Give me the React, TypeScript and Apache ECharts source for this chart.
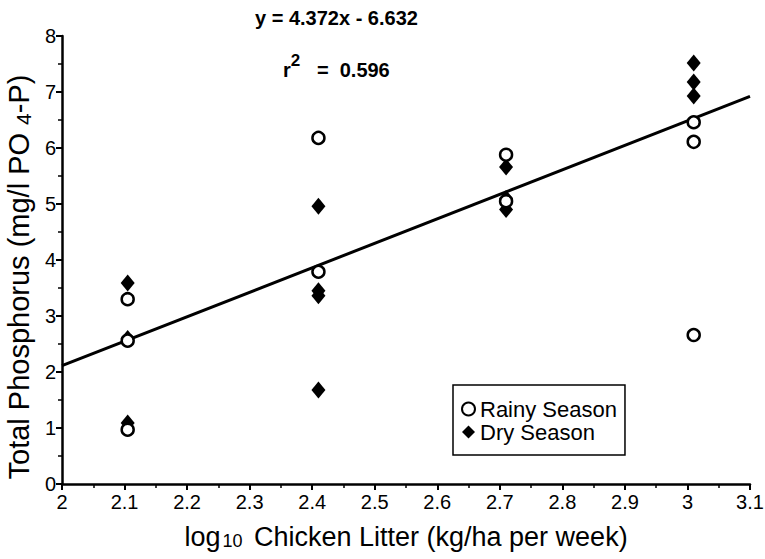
import React, { useEffect, useRef } from "react";
import * as echarts from "echarts";

const rainyX = [2.105, 2.105, 2.105, 2.41, 2.41, 2.71, 2.71, 3.01, 3.01, 3.01];
const rainyY = [3.3, 2.56, 0.97, 6.18, 3.79, 5.88, 5.05, 6.46, 6.11, 2.66];
const dryX = [2.105, 2.105, 2.105, 2.41, 2.41, 2.41, 2.41, 2.71, 2.71, 2.71, 3.01, 3.01, 3.01];
const dryY = [3.59, 2.6, 1.09, 4.96, 3.45, 3.36, 1.68, 5.66, 5.1, 4.9, 7.52, 7.18, 6.93];
const slope = 4.372;
const intercept = -6.632;
const lineX = [2, 3.1];
const equationText = "y = 4.372x - 6.632";
const r2Value = "0.596";

export default function App() {
  const ref = useRef<HTMLDivElement>(null);
  useEffect(() => {
    if (!ref.current) return;
    const chart = echarts.init(ref.current, null, { renderer: "svg" });
    const font = "Liberation Sans, Arial, Helvetica, sans-serif";
    chart.setOption({
      animation: false,
      grid: { left: 62, right: 15, top: 36, bottom: 75, containLabel: false, outerBoundsMode: "none" },
      textStyle: { fontFamily: font, color: "#000" },
      legend: {
        left: 453,
        top: 385,
        orient: "vertical",
        borderColor: "#000",
        borderWidth: 1.5,
        padding: [13, 8, 12, 8],
        itemGap: 1,
        itemWidth: 13,
        itemHeight: 13,
        textStyle: { fontSize: 22, color: "#000", fontFamily: font },
        data: ["Rainy Season", "Dry Season"],
      },
      xAxis: {
        type: "value",
        min: 2,
        max: 3.1,
        interval: 0.1,
        axisLine: { lineStyle: { color: "#000", width: 2.5 } },
        axisTick: { length: 6, lineStyle: { color: "#000", width: 2 } },
        minorTick: { show: true, splitNumber: 2, length: 4, lineStyle: { color: "#000", width: 1.5 } },
        splitLine: { show: false },
        axisLabel: { fontSize: 20, color: "#000", fontFamily: font, margin: 8 },
        name: "{a|log}{s|10}{a| Chicken Litter (kg/ha per week)}",
        nameLocation: "middle",
        nameGap: 36,
        nameTextStyle: {
          rich: {
            a: { fontSize: 27, fontFamily: font, color: "#000", lineHeight: 30, verticalAlign: "bottom" },
            s: { fontSize: 18, fontFamily: font, color: "#000", lineHeight: 14, verticalAlign: "bottom", padding: [0, 4, 0, 2] },
          },
        },
      },
      yAxis: {
        type: "value",
        min: 0,
        max: 8,
        interval: 1,
        axisLine: { lineStyle: { color: "#000", width: 2.5 } },
        axisTick: { length: 6, lineStyle: { color: "#000", width: 2 } },
        minorTick: { show: true, splitNumber: 2, length: 4, lineStyle: { color: "#000", width: 1.5 } },
        splitLine: { show: false },
        axisLabel: { fontSize: 20, color: "#000", fontFamily: font, margin: 6 },
        name: "{a|Total Phosphorus (mg/l PO }{s|4}{a|-P)}",
        nameLocation: "middle",
        nameGap: 26,
        nameTextStyle: {
          padding: [0, 34, 0, 0],
          rich: {
            a: { fontSize: 29, fontFamily: font, color: "#000", lineHeight: 32, verticalAlign: "bottom" },
            s: { fontSize: 21, fontFamily: font, color: "#000", lineHeight: 18, verticalAlign: "bottom" },
          },
        },
      },
      series: [
        {
          name: "Regression",
          type: "line",
          data: lineX.map((x) => [x, slope * x + intercept]),
          showSymbol: false,
          symbol: "none",
          lineStyle: { color: "#000", width: 3 },
          z: 1,
        },
        {
          name: "Rainy Season",
          type: "scatter",
          symbol: "circle",
          symbolSize: 12,
          data: rainyX.map((x, i) => [x, rainyY[i]]),
          itemStyle: { color: "#fff", borderColor: "#000", borderWidth: 2.5, opacity: 1 },
          z: 3,
        },
        {
          name: "Dry Season",
          type: "scatter",
          symbol: "diamond",
          symbolSize: [14, 17],
          data: dryX.map((x, i) => [x, dryY[i]]),
          itemStyle: { color: "#000", opacity: 1 },
          z: 2,
        },
      ],
      graphic: [
        {
          type: "text",
          left: 255,
          top: 8,
          style: { text: equationText, font: `bold 20px ${font}`, fill: "#000" },
        },
        {
          type: "text",
          left: 283,
          top: 52,
          style: {
            text: "{a|r}{p|2}{a|   =  " + r2Value + "}",
            rich: {
              a: { font: `bold 20px ${font}`, fill: "#000", lineHeight: 28, verticalAlign: "bottom" },
              p: { font: `bold 17px ${font}`, fill: "#000", lineHeight: 28, verticalAlign: "top" },
            },
          },
        },
      ],
    });
    return () => chart.dispose();
  }, []);
  return (
    <div
      ref={ref}
      style={{ position: "fixed", left: 0, top: 0, width: 765, height: 559, background: "#fff" }}
    />
  );
}
